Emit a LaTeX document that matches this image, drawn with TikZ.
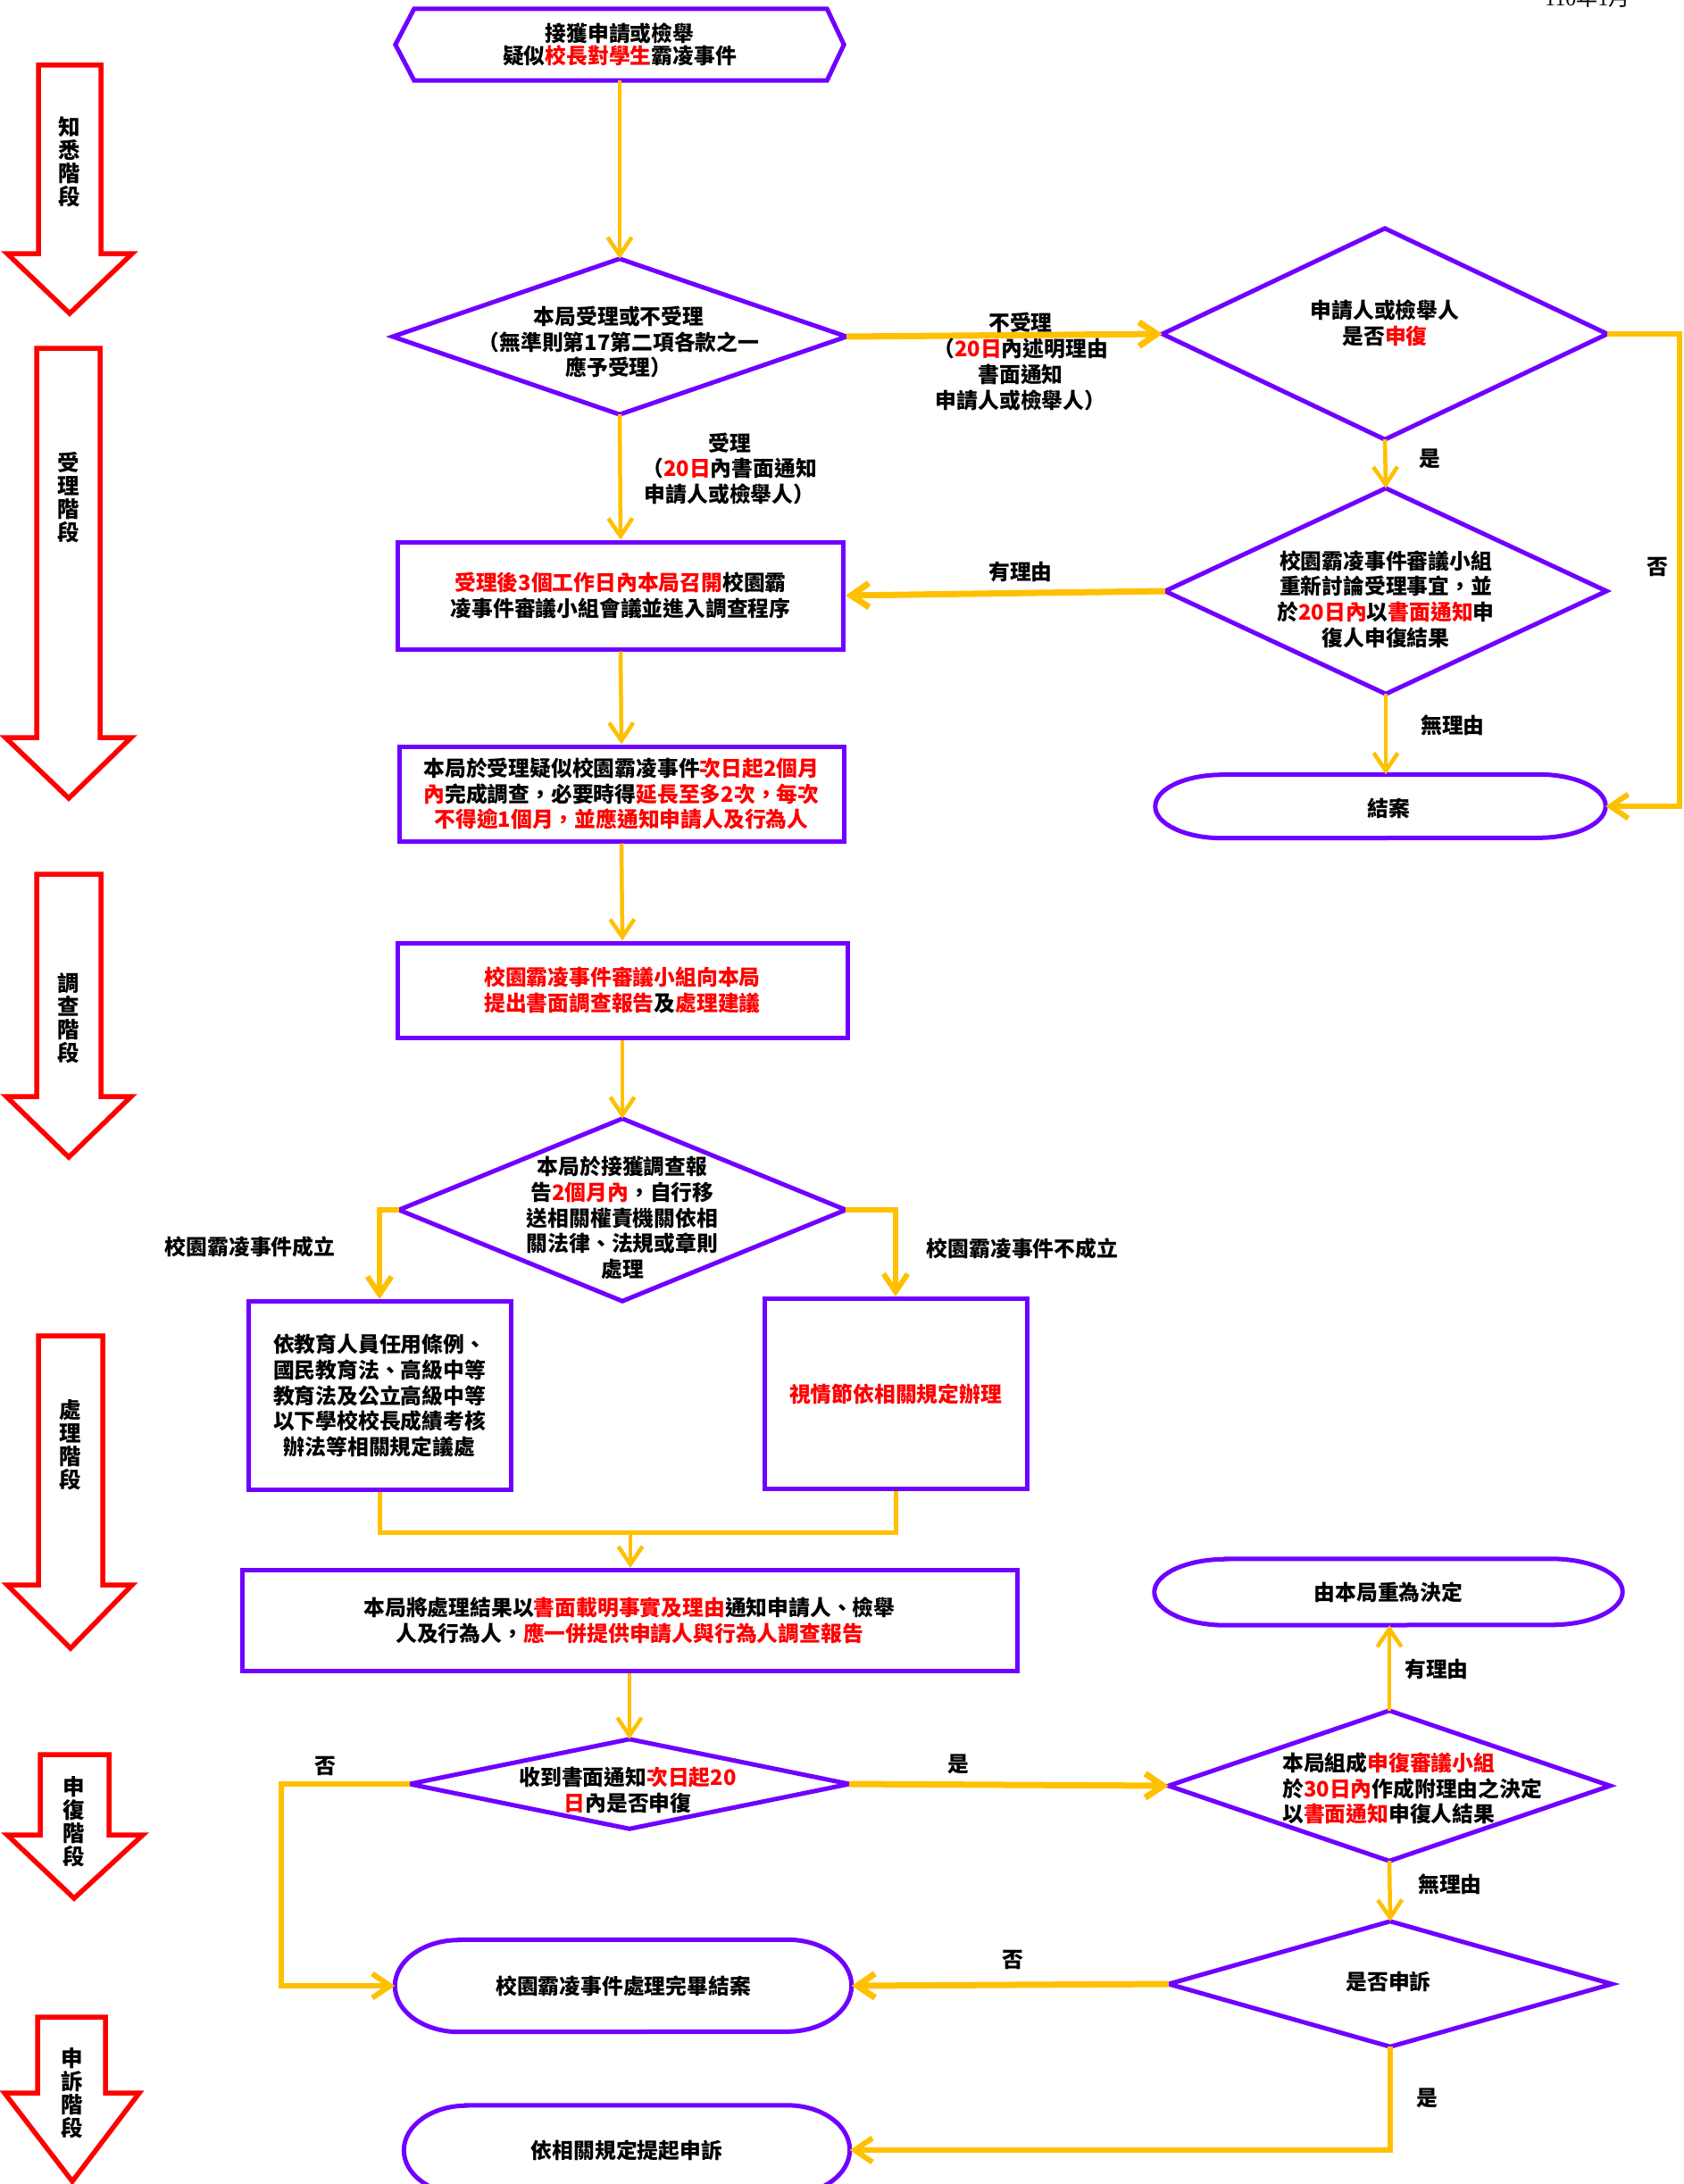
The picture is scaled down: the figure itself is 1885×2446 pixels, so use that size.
\documentclass[tikz,border=0pt]{standalone}
\usepackage{fontspec}
\setmainfont{Noto Sans CJK TC}
\newfontfamily\hdrfont{Liberation Serif}
\usetikzlibrary{arrows.meta}
\definecolor{vio}{RGB}{112,0,255}
\definecolor{gold}{RGB}{255,192,0}
\definecolor{rd}{RGB}{255,0,0}
\newcommand\mytxt{\fontsize{23.8}{28.7}\selectfont\bfseries}
\newcommand\stgtxt{\fontsize{24.5}{26}\selectfont\bfseries}
\newcommand\R[1]{\textcolor{rd}{#1}}
\newcommand\stad[3]{\draw[pur] ([xshift=#2pt]#1.north west) -- ([xshift=-#2pt]#1.north east) arc[start angle=90,end angle=-90,x radius=#2pt,y radius=#3pt] -- ([xshift=#2pt]#1.south west) arc[start angle=270,end angle=90,x radius=#2pt,y radius=#3pt] -- cycle;}
\newcommand\diam[1]{\draw[pur] (#1.north) -- (#1.east) -- (#1.south) -- (#1.west) -- cycle;}
\begin{document}
\begin{tikzpicture}[x=1pt,y=-1pt,
  pur/.style={draw=vio, line width=5pt, line join=miter},
  box/.style={pur, rectangle, inner sep=0pt, align=center, font=\mytxt},
  shp/.style={rectangle, inner sep=0pt, draw=none, align=center, font=\mytxt},
  txt/.style={align=center, font=\mytxt, inner sep=0pt},
  stg/.style={align=center, font=\stgtxt, inner sep=0pt},
  redarrow/.style={draw=rd, line width=5.5pt, fill=white, line join=miter},
  cv/.style={draw=gold, line width=4.5pt, -{Straight Barb[length=20pt,width=27pt]}},
  ch/.style={draw=gold, line width=7pt, -{Straight Barb[length=20pt,width=27pt]}},
  ce/.style={draw=gold, line width=6pt, -{Straight Barb[length=20pt,width=27pt]}},
  cl/.style={draw=gold, line width=5pt},
]
\useasboundingbox (0,0) rectangle (1885,2446);
\fill[white] (0,0) rectangle (1885,2446);

% header fragment (cut by the page edge as in the reference)
\node[anchor=base west, inner sep=0pt, font=\fontsize{24}{24}\selectfont] (hdr) at (1730,7) {{\hdrfont 110}年{\hdrfont 1}月};

% ---------- stage arrows ----------
\draw[redarrow] (43,73) -- (113,73) -- (113,284) -- (148,284) -- (78,351) -- (8,284) -- (43,284) -- cycle;
\node[stg] (st1) at (78,181) {知\\悉\\階\\段};
\draw[redarrow] (41,390) -- (112,390) -- (112,826) -- (147,826) -- (77,894) -- (6,826) -- (41,826) -- cycle;
\node[stg] (st2) at (77,557) {受\\理\\階\\段};
\draw[redarrow] (41,979) -- (113,979) -- (113,1228) -- (147,1228) -- (77,1296) -- (7,1228) -- (41,1228) -- cycle;
\node[stg] (st3) at (77,1140) {調\\查\\階\\段};
\draw[redarrow] (43,1496) -- (115,1496) -- (115,1775) -- (148,1775) -- (79,1846) -- (8,1775) -- (43,1775) -- cycle;
\node[stg] (st4) at (79,1618) {處\\理\\階\\段};
\draw[redarrow] (45,1965) -- (122,1965) -- (122,2055) -- (160,2055) -- (83,2126) -- (8,2055) -- (45,2055) -- cycle;
\node[stg] (st5) at (83,2040) {申\\復\\階\\段};
\draw[redarrow] (42,2259) -- (118,2259) -- (118,2344) -- (156,2344) -- (81,2443) -- (5,2344) -- (42,2344) -- cycle;
\node[stg] (st6) at (81,2344) {申\\訴\\階\\段};

% ---------- shapes ----------
\node[shp, minimum width=502, minimum height=80, font=\fontsize{23.8}{25}\selectfont\bfseries] (s) at (694,50) {接獲申請或檢舉\\疑似\R{校長對學生}霸凌事件};
\draw[pur] (s.west) -- ([xshift=21pt]s.north west) -- ([xshift=-19pt]s.north east) -- (s.east) -- ([xshift=-19pt]s.south east) -- ([xshift=21pt]s.south west) -- cycle;

\node[shp, minimum width=508, minimum height=174] (d1) at (694,377) {};
\diam{d1}
\node[txt] (t1) at (693,383) {本局受理或不受理\\（無準則第17第二項各款之一\\應予受理）};

\node[shp, minimum width=498, minimum height=236] (d2) at (1551,374) {};
\diam{d2}
\node[txt] (t2) at (1551,362) {申請人或檢舉人\\是否\R{申復}};

\node[shp, minimum width=494, minimum height=230] (d3) at (1552,662) {};
\diam{d3}
\node[txt] (t3) at (1552,671) {校園霸凌事件審議小組\\重新討論受理事宜，並\\於\R{20日內}以\R{書面通知}申\\復人申復結果};

\node[shp, minimum width=504, minimum height=71] (s1) at (1546,903) {};
\stad{s1}{75}{35.5}
\node[txt] (t8) at (1555,905) {結案};

\node[box, minimum width=499, minimum height=120] (b3) at (695,667) {\R{受理後3個工作日內本局召開}校園霸\\凌事件審議小組會議並進入調查程序};

\node[box, minimum width=498, minimum height=106] (b4) at (696,889) {本局於受理疑似校園霸凌事件\R{次日起2個月}\\\R{內}完成調查，必要時得\R{延長至多2次，每次}\\\R{不得逾1個月，並應通知申請人及行為人}};

\node[box, minimum width=504, minimum height=106] (b5) at (697,1109) {\R{校園霸凌事件審議小組向本局}\\\R{提出書面調查報告}及\R{處理建議}};

\node[shp, minimum width=500, minimum height=204] (d4) at (697,1355) {};
\diam{d4}
\node[txt] (t4) at (697,1364) {本局於接獲調查報\\告\R{2個月內}，自行移\\送相關權責機關依相\\關法律、法規或章則\\處理};

\node[box, minimum width=294, minimum height=211] (b6) at (425,1563) {依教育人員任用條例、\\國民教育法、高級中等\\教育法及公立高級中等\\以下學校校長成績考核\\辦法等相關規定議處};

\node[box, minimum width=294, minimum height=213] (b7) at (1003,1561) {\R{視情節依相關規定辦理}};

\node[box, minimum width=868, minimum height=113] (b8) at (705,1815) {本局將處理結果以\R{書面載明事實及理由}通知申請人、檢舉\\人及行為人，\R{應一併提供申請人與行為人調查報告}};

\node[shp, minimum width=492, minimum height=100] (d5) at (705,1998) {};
\diam{d5}
\node[txt] (t5) at (703,2005) {收到書面通知\R{次日起20}\\\R{日}內是否申復};

\node[shp, minimum width=494, minimum height=168] (d6) at (1556,2000) {};
\diam{d6}
\node[txt, anchor=west, align=left] (t6) at (1436,2003) {本局組成\R{申復審議小組}\\於\R{30日內}作成附理由之決定\\以\R{書面通知}申復人結果};

\node[shp, minimum width=524, minimum height=74] (s2) at (1555,1783) {由本局重為決定};
\stad{s2}{80}{37}

\node[shp, minimum width=496, minimum height=140] (d7) at (1557,2222) {};
\diam{d7}
\node[txt] (t7) at (1555,2219) {是否申訴};

\node[shp, minimum width=511, minimum height=103] (s3) at (698,2224) {校園霸凌事件處理完畢結案};
\stad{s3}{72}{51.5}

\node[shp, minimum width=499, minimum height=100] (s4) at (702,2408) {依相關規定提起申訴};
\stad{s4}{70}{50}

% ---------- connectors ----------
\coordinate (rt) at (1881,0);
\coordinate (lc) at (315,0);
\coordinate (m) at (706,1716);

\draw[cv] (s.south) -- (d1.north);
\draw[ch] (d1.east) -- (d2.west);
\draw[cv] (d2.south) -- (d3.north);
\draw[ce] (d2.east) -- (d2.east -| rt) -- (rt |- s1.east) -- (s1.east);
\draw[ch] (d3.west) -- (b3.east);
\draw[cv] (d3.south) -- (d3.south |- s1.north);
\draw[cv] (d1.south) -- (b3.north);
\draw[cv] (b3.south) -- (b4.north);
\draw[cv] (b4.south) -- (b5.north);
\draw[cv] (b5.south) -- (d4.north);
\draw[ce] (d4.west) -| (b6.north);
\draw[ce] (d4.east) -| (b7.north);
\draw[cl] (b6.south) |- (m) -| (b7.south);
\draw[cv] (m) -- (m |- b8.north);
\draw[cv] (b8.south) -- (d5.north);
\draw[ch] (d5.east) -- (d6.west);
\draw[ce] (d5.west) -- (d5.west -| lc) |- (s3.west);
\draw[cv] (d6.north) -- (d6.north |- s2.south);
\draw[cv] (d6.south) -- (d7.north);
\draw[ch] (d7.west) -- (s3.east);
\draw[ce] (d7.south) |- (s4.east);

% ---------- connector labels ----------
\node[txt] (l1) at (1143,405) {不受理\\（\R{20日}內述明理由\\書面通知\\申請人或檢舉人）};
\node[txt] (l2) at (817,525) {受理\\（\R{20日}內書面通知\\申請人或檢舉人）};
\node[txt] (l3) at (1601,514) {是};
\node[txt] (l4) at (1856,635) {否};
\node[txt] (l5) at (1143,641) {有理由};
\node[txt] (l6) at (1627,812) {無理由};
\node[txt] (l7) at (280,1396) {校園霸凌事件成立};
\node[txt] (l8) at (1145,1398) {校園霸凌事件不成立};
\node[txt] (l9) at (364,1978) {否};
\node[txt] (l10) at (1073,1976) {是};
\node[txt] (l11) at (1609,1870) {有理由};
\node[txt] (l12) at (1624,2110) {無理由};
\node[txt] (l13) at (1134,2195) {否};
\node[txt] (l14) at (1598,2350) {是};
\end{tikzpicture}
\end{document}
